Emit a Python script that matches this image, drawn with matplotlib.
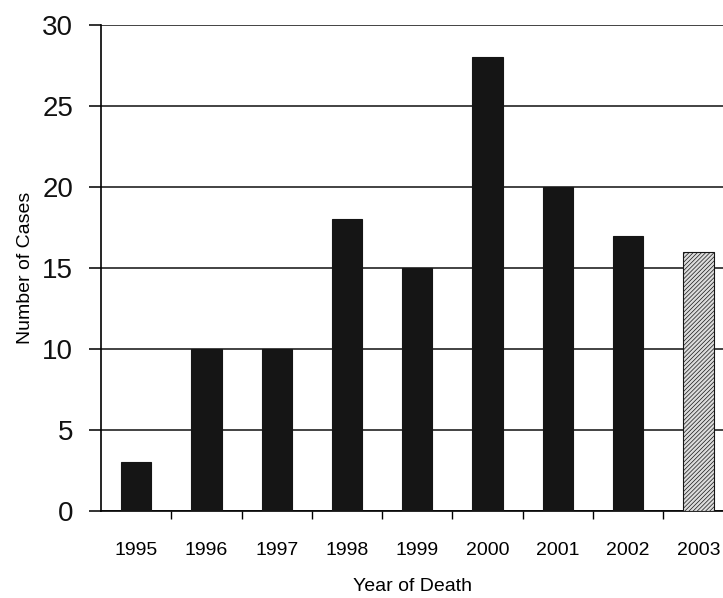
import matplotlib
matplotlib.use("Agg")
import matplotlib.pyplot as plt
import numpy as np

years = ['1995', '1996', '1997', '1998', '1999', '2000', '2001', '2002', '2003']
cases = [3, 10, 10, 18, 15, 28, 20, 17, 16]

plt.rcParams['font.family'] = ['Liberation Sans', 'DejaVu Sans']
plt.rcParams['hatch.color'] = '#666666'
plt.rcParams['hatch.linewidth'] = 0.5

fig = plt.figure(figsize=(7.23, 5.98), dpi=100)
ax = fig.add_axes([0.1397, 0.1455, 0.8603, 0.8127])

x = np.arange(len(years))
colors = ['#151515'] * (len(years) - 1) + ['#dcdcdc']
bars = ax.bar(x, cases, width=0.43, color=colors, edgecolor='#151515', linewidth=0.8, zorder=3)
bars[-1].set_hatch('////////')

ax.set_ylim(0, 30)
ax.set_xlim(-0.5, 8.35)
ax.set_yticks(np.arange(0, 31, 5))
ax.yaxis.grid(True, color='#222222', linewidth=1.2, zorder=0)
ax.tick_params(axis='y', length=9, width=1.2, labelsize=20, pad=11, colors='#111111')

ax.set_xticks(x)
ax.set_xticklabels(years, fontsize=14)
ax.set_xticks(np.arange(0.5, 8, 1), minor=True)
ax.tick_params(axis='x', which='major', length=0, pad=22)
ax.tick_params(axis='x', which='minor', length=6, width=1.0, direction='out')

for side in ['top', 'right']:
    ax.spines[side].set_visible(False)
ax.spines['left'].set_linewidth(1.2)
ax.spines['bottom'].set_linewidth(1.2)

ax.set_ylabel('Number of Cases', fontsize=14, labelpad=6)
ax.set_xlabel('Year of Death', fontsize=14, labelpad=14)

fig.savefig('out.png', dpi=100)
